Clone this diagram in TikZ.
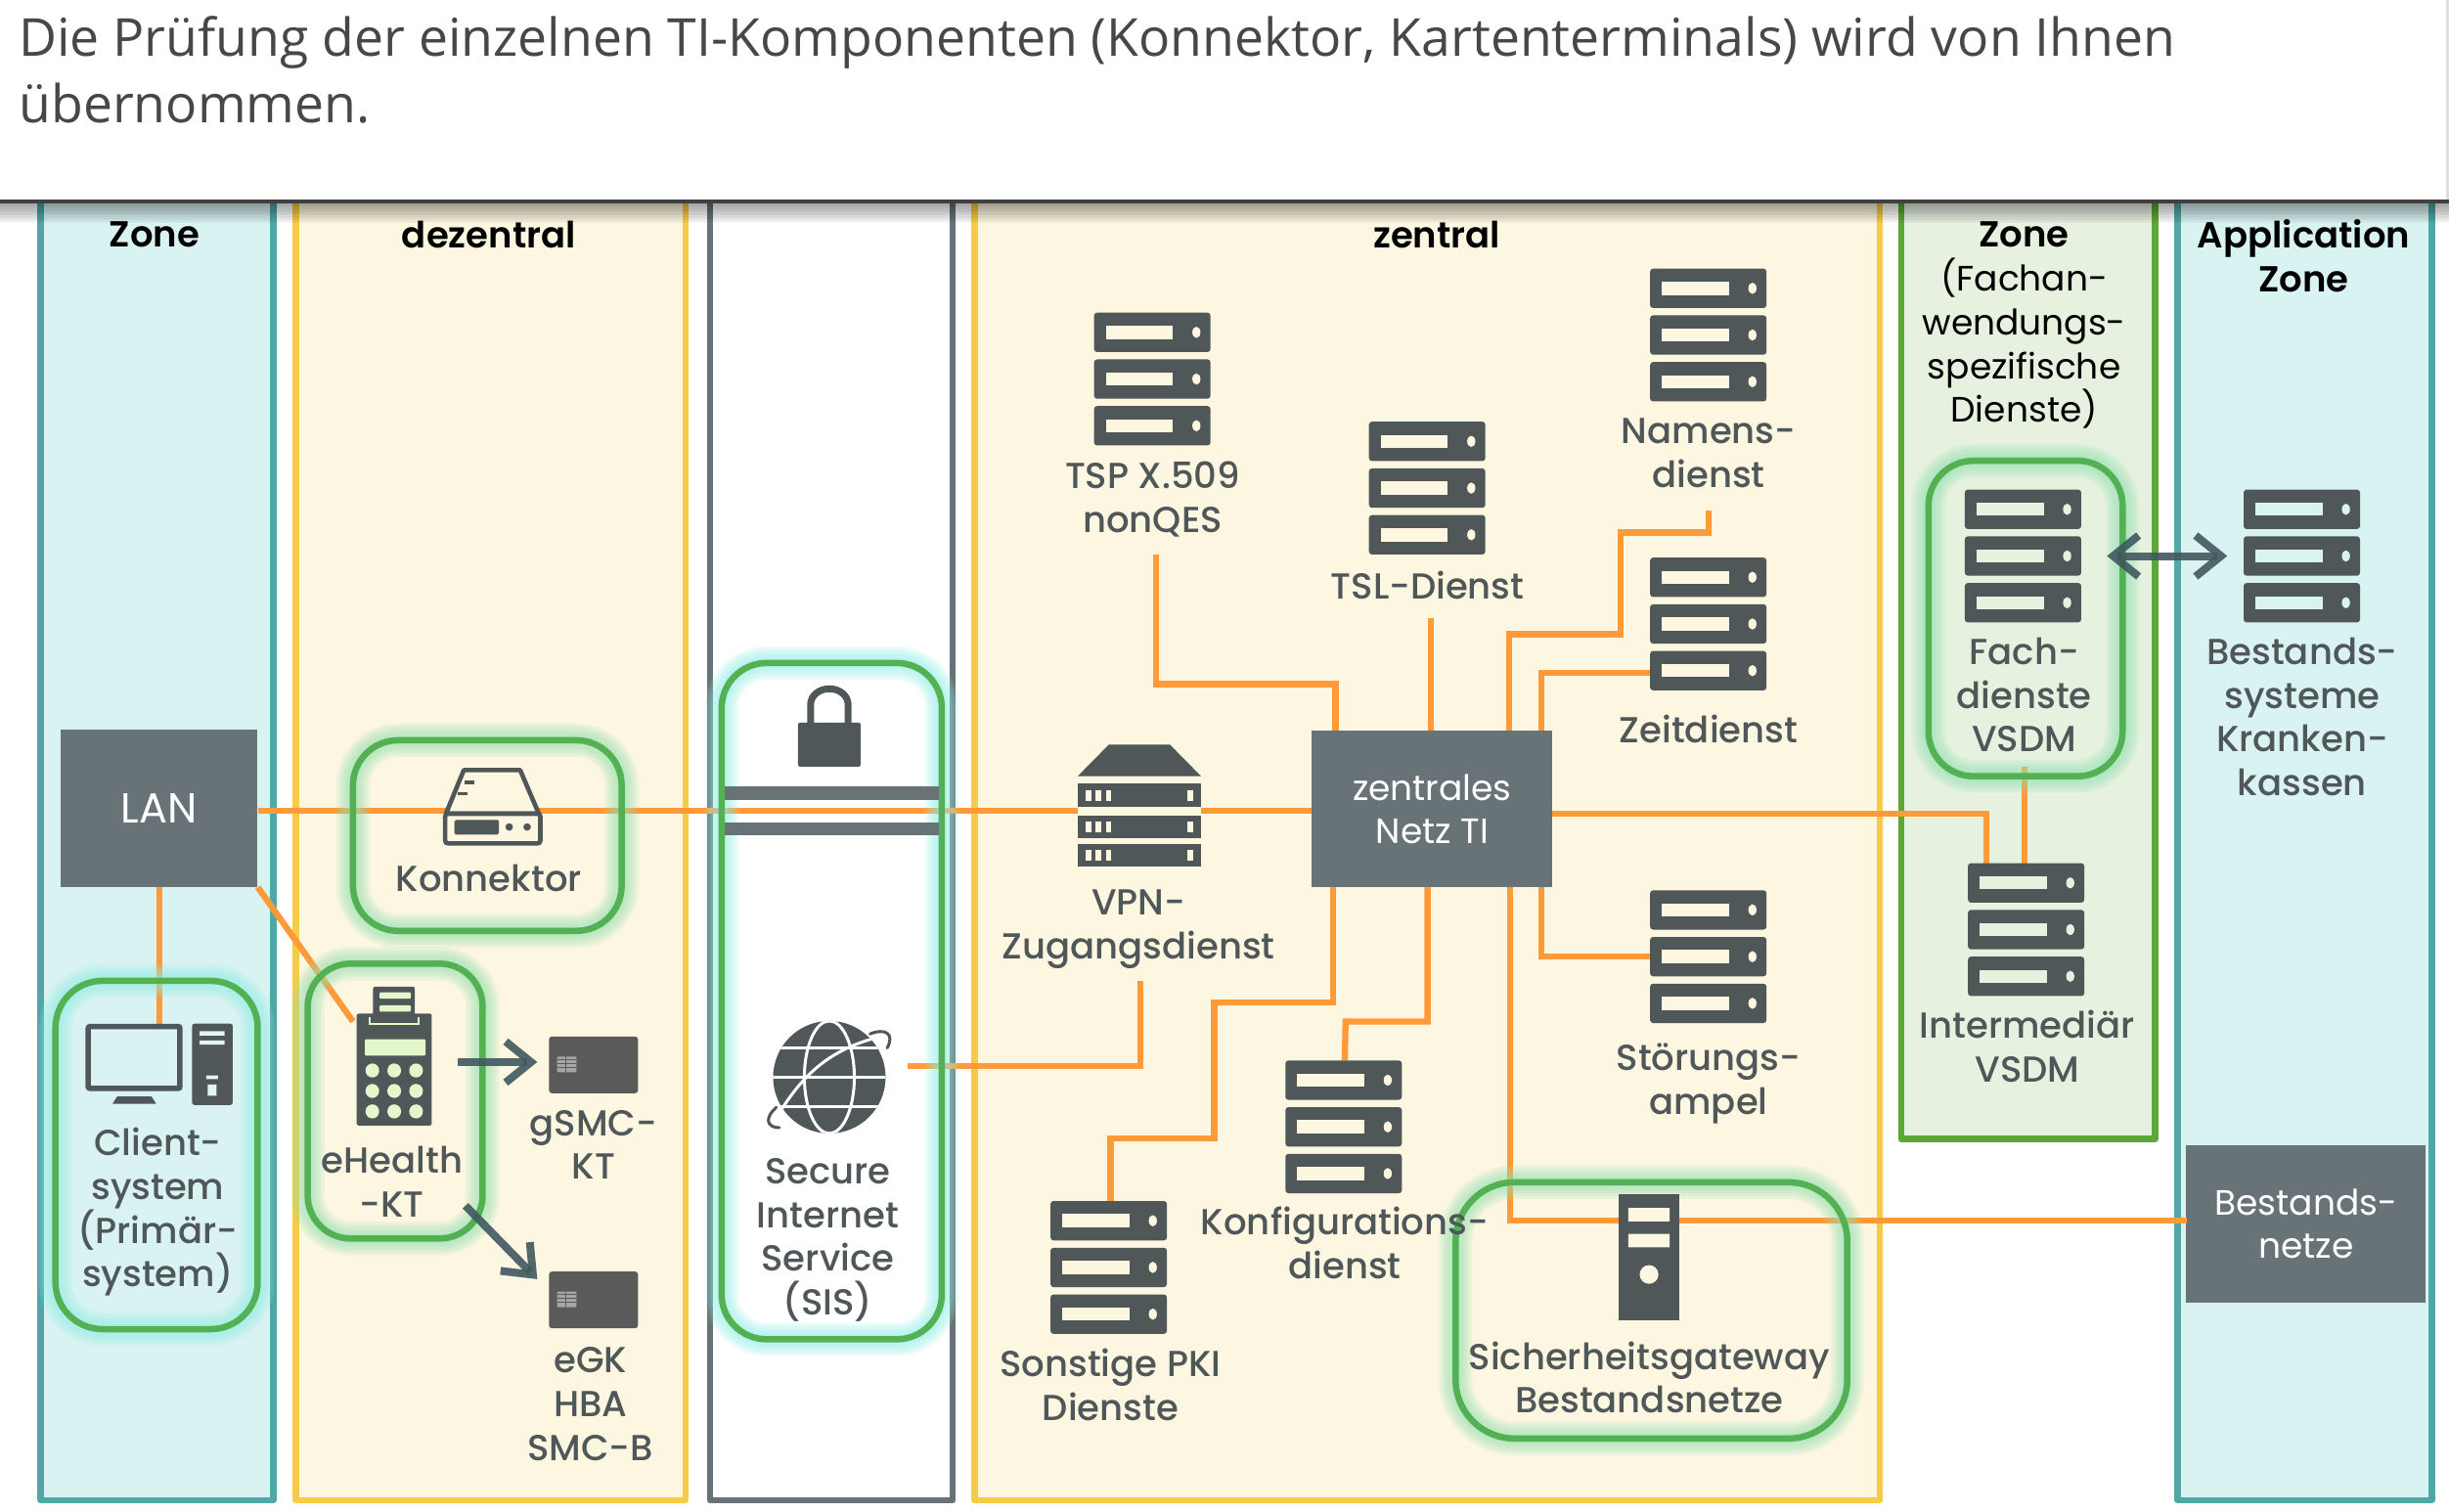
\documentclass[tikz,border=0pt]{standalone}
\usepackage{fontspec}
\setmainfont{Poppins Medium}
\newfontfamily\headfont{Open Sans}
\newfontfamily\regfont{Poppins}
\newfontfamily\semifont{Poppins SemiBold}
\usetikzlibrary{arrows.meta,calc}
\definecolor{tealz}{HTML}{4FA7A7}
\definecolor{tealf}{HTML}{D9F2F2}
\definecolor{yelz}{HTML}{F6CB45}
\definecolor{yelf}{HTML}{FDF6E0}
\definecolor{grz}{HTML}{687377}
\definecolor{grnz}{HTML}{5BA836}
\definecolor{grnf}{HTML}{E6F1DF}
\definecolor{orng}{HTML}{FF9A38}
\definecolor{boxg}{HTML}{53B153}
\definecolor{dark}{HTML}{4F5759}
\definecolor{arrw}{HTML}{40585F}
\definecolor{card}{HTML}{5A5A5A}
\definecolor{glowc}{HTML}{8CEEE6}
\definecolor{glowg}{HTML}{8FE0B0}
\tikzset{
  zone/.style={line width=6.5pt,line join=round},
  wire/.style={draw=orng,line width=6.3pt,line join=miter},
  arr/.style={draw=arrw,line width=8pt,opacity=.9,-{Straight Barb[length=26pt,width=42pt,line width=8pt]}},
  dbl/.style={draw=arrw,line width=8pt,opacity=.9,{Straight Barb[length=26pt,width=42pt,line width=8pt]}-{Straight Barb[length=26pt,width=42pt,line width=8pt]}},
  lbl/.style={text=dark,align=center,inner sep=0pt,font=\fontsize{37}{44.7}\selectfont},
  ttl/.style={text=black,align=center,inner sep=0pt,font=\semifont\fontsize{37}{44.7}\selectfont},
  reg/.style={text=black,align=center,inner sep=0pt,font=\regfont\fontsize{36}{44.7}\selectfont},
  hub/.style={fill=grz,text=white,align=center,inner sep=0pt,font=\regfont\fontsize{36}{44.7}\selectfont},
}
% server stack: name, left, top, slot colour
\newcommand{\serverstack}[4]{%
  \node[inner sep=0pt,minimum width=119pt,minimum height=136pt] (#1) at (#2+37.25,#3+42.5) {};
  \foreach \k in {0,1,2}{
    \fill[dark,rounded corners=3pt] (#2,#3+\k*29.9) rectangle ++(74.5,25.2);
    \fill[#4] (#2+7.5,#3+\k*29.9+8.4) rectangle ++(43,8.4);
    \fill[#4] (#2+65.5,#3+\k*29.9+12.6) ellipse (2.6 and 3.6);
  }}
% green box with glow: name, x1,y1,x2,y2, radius(pt), glow colour
\newcommand{\glowbox}[7]{%
  \foreach \w in {34,28,22,16,10}{
    \draw[#7,line width=\w pt,opacity=.17,rounded corners=#6pt] (#2,#3) rectangle (#4,#5);
  }
  \pgfmathsetlengthmacro{\bw}{(#4-#2)*1.597pt}
  \pgfmathsetlengthmacro{\bh}{(#5-#3)*1.597pt}
  \node[draw=boxg,line width=6.5pt,rounded corners=#6pt,inner sep=0pt,outer sep=0pt,minimum width=\bw,minimum height=\bh] (#1) at ({(#2+#4)/2},{(#3+#5)/2}) {};
}
\newcommand{\chipcard}[3]{%
  \node[fill=card,rounded corners=3pt,inner sep=0pt,minimum width=91pt,minimum height=58pt] (#1) at (#2+28.5,#3+18.3) {};
  \fill[black!35,rounded corners=1pt] (#2+5.2,#3+13) rectangle ++(12.4,10);
  \foreach \q in {15,17.5,20}{\draw[card,line width=.8pt] (#2+5.2,#3+\q) -- ++(12.4,0);}
  \draw[card,line width=.8pt] (#2+11,#3+13) -- ++(0,10);
}
\begin{document}
\begin{tikzpicture}[x=1.597pt,y=-1.597pt]
\useasboundingbox (0,0) rectangle (1568,968);
\fill[white] (0,0) rectangle (1568,968);
% zones
\draw[zone,draw=tealz,fill=tealf] (26,100) rectangle (175,960.5);
\draw[zone,draw=yelz,fill=yelf] (189.3,100) rectangle (439,960.5);
\draw[zone,draw=grz,fill=white] (454.5,100) rectangle (610,960.5);
\draw[zone,draw=yelz,fill=yelf] (624,100) rectangle (1203.5,960.5);
\draw[zone,draw=grnz,fill=grnf] (1217.3,100) rectangle (1379.8,729.3);
\draw[zone,draw=tealz,fill=tealf] (1394.3,100) rectangle (1557,960.5);
% hubs
\node[hub,minimum width=201pt,minimum height=161pt,font=\regfont\fontsize{43}{44.7}\selectfont] (lan) at (102,517.5) {LAN};
\node[hub,minimum width=246pt,minimum height=160pt] (zt) at (917,518) {zentrales\\Netz TI};
\node[hub,minimum width=245pt,minimum height=161pt] (bn) at (1476.5,783.5) {Bestands-\\netze};
% ports
\coordinate (pClient) at (102,656);
\coordinate (pEh) at (226,654);
\coordinate (pInt) at (1272,553);
\coordinate (ztE) at (994,521);
\coordinate (pFachS) at (1296,491);
\coordinate (pIntT) at (1296,553);
\coordinate (pTsp) at (740,355);
\coordinate (ztN1) at (855,468);
\coordinate (pTsl) at (916,396);
\coordinate (ztN2) at (916,468);
\coordinate (pNam) at (1094,327);
\coordinate (ztN3) at (966,468);
\coordinate (pZeit) at (1061,431);
\coordinate (ztN4) at (987,468);
\coordinate (ztS1) at (853.5,568);
\coordinate (ztS2) at (914,568);
\coordinate (ztS3) at (967,568);
\coordinate (ztS4) at (987,568);
\coordinate (pStoer) at (1063,612.5);
\coordinate (pSon) at (711,769);
\coordinate (pKon) at (861,679);
\coordinate (pBn) at (1400,781.5);
\coordinate (pVpn) at (730,628);
\coordinate (pSis) at (581,682.5);
% wires
\draw[wire] (lan.east |- 0,519) -- (zt.west |- 0,519);
\draw[wire] (lan.south) -- (pClient);
\draw[wire] (lan.south east) -- (pEh);
\draw[wire] (ztE) -| (pInt);
\draw[wire] (pFachS) -- (pIntT);
\draw[wire] (pTsp) |- (855,438) -- (ztN1);
\draw[wire] (pTsl) -- (ztN2);
\draw[wire] (pNam) |- (1037.5,341) |- (966,406) -- (ztN3);
\draw[wire] (pZeit) -| (ztN4);
\draw[wire] (ztS1) |- (777.5,642) |- (711,729) -- (pSon);
\draw[wire] (ztS2) |- (861.5,654) -- (pKon);
\draw[wire] (ztS3) |- (pBn);
\draw[wire] (ztS4) |- (pStoer);
\draw[wire] (pVpn) |- (pSis);
% green boxes
\glowbox{bClient}{35.5}{628}{165}{851}{48}{glowc}
\glowbox{bKon}{226}{474}{398}{596}{46}{glowg}
\glowbox{bSis}{462}{424.5}{603}{857.5}{46}{glowc}
\glowbox{bEh}{197}{617}{309}{793}{44}{glowg}
\glowbox{bFach}{1234.7}{295}{1359}{497}{46}{glowg}
\glowbox{bGate}{932}{757}{1182.7}{921}{60}{glowg}
% lock and bars
\node[inner sep=0pt,minimum width=64pt,minimum height=45pt,fill=dark,rounded corners=2pt] (lock) at (531,476.8) {};
\draw[dark,line width=7pt] (519,464) -- (519,451) arc (180:360:12 and 10) -- (543,464);
\fill[grz] (464,503.6) rectangle (601,512);
\fill[grz] (464,526.4) rectangle (601,535);
% Konnektor icon
\node[inner sep=0pt,minimum width=99pt,minimum height=77pt] (iKon) at (315.6,516.4) {};
\draw[dark,line width=4.6pt,fill=yelf,line join=round] (297,493) -- (333,493) -- (345,521) -- (285.5,521) -- cycle;
\draw[dark,line width=4.6pt,fill=yelf,rounded corners=3pt] (285,521) rectangle (346,540);
\fill[dark,rounded corners=1.5pt] (291,525) rectangle (319.5,534.3);
\fill[dark] (326,529.5) circle (2.4) (337.5,529.5) circle (2.4);
\draw[dark,line width=3.5pt] (297.5,501) -- (304,501) (293,508) -- (299.5,508);
% computer icon
\node[inner sep=0pt,minimum width=151pt,minimum height=83pt] (iPc) at (102,681) {};
\draw[dark,line width=5.5pt,rounded corners=2pt] (56.5,657.2) rectangle (115.2,696.9);
\fill[dark] (75,702) -- (97,702) -- (100,706.8) -- (72,706.8) -- cycle;
\fill[dark,rounded corners=2.5pt] (123,655.4) rectangle (149,707.5);
\fill[tealf!80!white] (127.8,660.3) rectangle (143.8,663) (127.8,666.2) rectangle (143.8,668.9) (132,688.5) rectangle (139.5,691) (133,694.4) rectangle (138.6,701.6);
% eHealth icon
\node[inner sep=0pt,minimum width=77pt,minimum height=141pt] (iEh) at (252.4,676) {};
\fill[dark,rounded corners=2pt] (238.8,631.8) rectangle (265.6,652);
\fill[dark,rounded corners=2pt] (228.4,649) rectangle (276.4,720.6);
\fill[yelf!90!green,rounded corners=1pt] (243,635.4) rectangle (263,639.4) (243,643.7) rectangle (263,647.7) (233.6,665.4) rectangle (272.4,675.9);
\draw[yelf!90!green,line width=2pt] (237,651.5) -- (237,655.5) -- (268,655.5) -- (268,651.5);
\foreach \u in {238.4,252.4,266.4}\foreach \v in {685.4,698.5,711.6}{\fill[yelf!90!green] (\u,\v) ellipse (4.4 and 4.5);}
% cards
\chipcard{cG}{351.5}{663.5}
\chipcard{cE}{351.5}{814}
% globe
\node[inner sep=0pt,minimum width=115pt,minimum height=115pt] (iGlobe) at (531,689.7) {};
\fill[dark] (531,689.7) circle (36);
\begin{scope}
\clip (531,689.7) circle (36);
\draw[white,line width=3pt] (495,671) -- (567,671) (495,689.7) -- (567,689.7) (495,708.7) -- (567,708.7);
\draw[white,line width=3pt] (531,689.7) ellipse (16 and 36);
\draw[white,line width=3pt] (497,716) .. controls (515,685) and (535,670) .. (567,663);
\end{scope}
\draw[dark,line width=3pt,line cap=round] (497,709) .. controls (490,715) and (490,722) .. (499,722);
\draw[dark,line width=3pt,line cap=round] (557,662) .. controls (567,658) and (573,662) .. (568,671);
% VPN icon
\node[inner sep=0pt,minimum width=126pt,minimum height=125pt] (iVpn) at (729.5,516) {};
\fill[yelf] (690,498) rectangle (769,555);
\fill[dark] (710,476.7) -- (749,476.7) -- (769,497) -- (690,497) -- cycle;
\foreach \t in {501.8,522,540.3}{
  \fill[dark] (690,\t) rectangle (769,\t+14.6);
  \foreach \s in {695,701.5,708}{\fill[yelf] (\s,\t+4) rectangle ++(3.6,7);}
  \fill[yelf] (760.5,\t+4) rectangle ++(3.6,7);
}
% servers
\serverstack{sTsp}{700.5}{200.2}{yelf}
\serverstack{sNam}{1056.5}{172}{yelf}
\serverstack{sTsl}{876.5}{270}{yelf}
\serverstack{sZeit}{1056.5}{357}{yelf}
\serverstack{sFach}{1258}{313.5}{grnf}
\serverstack{sBest}{1436.5}{313.5}{tealf}
\serverstack{sInt}{1260}{552.7}{grnf}
\serverstack{sStoer}{1056.5}{570}{yelf}
\serverstack{sKonf}{823}{679}{yelf}
\serverstack{sSon}{672.6}{769}{yelf}
% gateway tower
\node[inner sep=0pt,fill=dark,minimum width=62.5pt,minimum height=129pt] (iGate) at (1055.9,804.7) {};
\fill[yelf] (1042.6,773.4) rectangle (1069,782) (1042.6,790) rectangle (1069,798.7) (1055.8,816) circle (6);
% arrows
\coordinate (aEhE) at (293,680);
\coordinate (aGW) at (344,680);
\coordinate (aEhS) at (298,772);
\coordinate (aEgk) at (344,819);
\coordinate (aFach) at (1349,356);
\coordinate (aBest) at (1426,356);
\draw[arr] (aEhE) -- (aGW);
\draw[arr] (aEhS) -- (aEgk);
\draw[dbl] (aFach) -- (aBest);
% labels
\node[ttl] (t1) at (99,150) {Zone};
\node[ttl] (t2) at (313,150) {dezentral};
\node[ttl] (t3) at (920,150) {zentral};
\node[ttl] (t4) at (1296,150) {Zone};
\node[reg] (t4b) at (1296,220) {(Fachan-\\wendungs-\\spezifische\\Dienste)};
\node[ttl] (t5) at (1475,164) {Application\\Zone};
\node[lbl] (lClient) at (101,776) {Client-\\system\\(Primär-\\system)};
\node[lbl] (lKon) at (313,562) {Konnektor};
\node[lbl] (lEh) at (251,756.5) {eHealth\\-KT};
\node[lbl] (lG) at (380,733) {gSMC-\\KT};
\node[lbl] (lE) at (378,899) {eGK\\HBA\\SMC-B};
\node[lbl] (lSis) at (530,794) {Secure\\Internet\\Service\\(SIS)};
\node[lbl] (lVpn) at (729,595) {VPN-\\Zugangsdienst};
\node[lbl] (lTsp) at (738,319.5) {TSP X.509\\nonQES};
\node[lbl] (lTsl) at (914,375) {TSL-Dienst};
\node[lbl] (lNam) at (1094,290) {Namens-\\dienst};
\node[lbl] (lZeit) at (1094,467) {Zeitdienst};
\node[lbl] (lSt) at (1094,694) {Störungs-\\ampel};
\node[lbl] (lKonf) at (861,796) {Konfigurations-\\dienst};
\node[lbl] (lSon) at (711,886.5) {Sonstige PKI\\Dienste};
\node[lbl] (lGate) at (1056,882) {Sicherheitsgateway\\Bestandsnetze};
\node[lbl] (lFach) at (1296,445) {Fach-\\dienste\\VSDM};
\node[lbl] (lInt) at (1298,670) {Intermediär\\VSDM};
\node[lbl] (lBest) at (1474,459) {Bestands-\\systeme\\Kranken-\\kassen};
% header shadow and bar
\foreach \k in {1,...,14}{
  \fill[black,opacity=.032] (0,129) rectangle (1568,129+\k);
}
\fill[white] (0,0) rectangle (1568,128);
\fill[black!12] (1565.8,0) rectangle (1568,128);
\fill[black!75] (0,128) rectangle (1568,130);
\node[anchor=north west,inner sep=0pt,align=left,text=black!72,font=\headfont\fontsize{53.5}{68.7}\selectfont] (hdr) at (12,10) {Die Prüfung der einzelnen TI-Komponenten (Konnektor, Kartenterminals) wird von Ihnen\\übernommen.};
\end{tikzpicture}
\end{document}
